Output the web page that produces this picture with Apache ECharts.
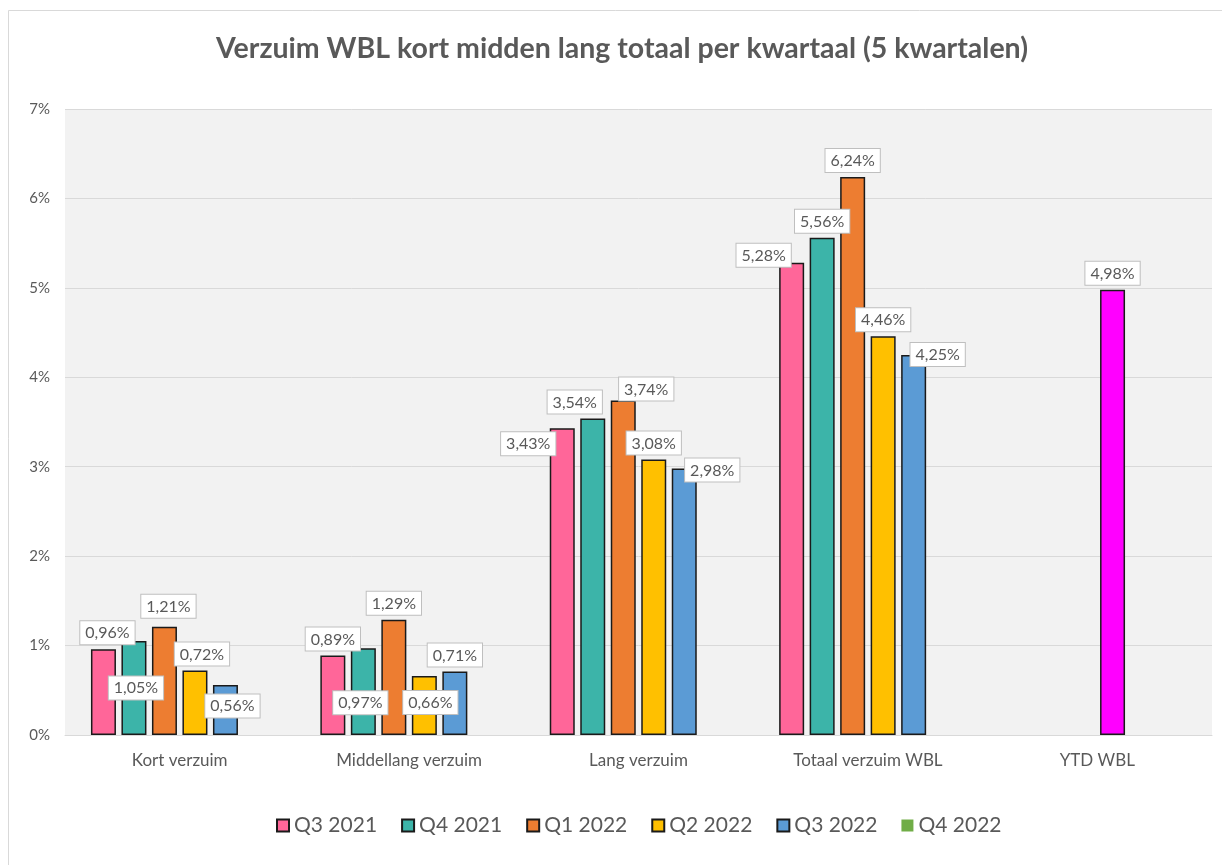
<!DOCTYPE html>
<html>
<head>
<meta charset="utf-8">
<script src="https://cdn.jsdelivr.net/npm/echarts@6/dist/echarts.min.js"></script>
<style>
  html, body { margin: 0; padding: 0; background: #fff; }
  #main { width: 1222px; height: 865px; }
</style>
</head>
<body>
<div id="main"></div>
<script>
// categorieën en kwartalen
var categories = ['Kort verzuim', 'Middellang verzuim', 'Lang verzuim', 'Totaal verzuim WBL', 'YTD WBL'];
var quarters = ['Q3 2021', 'Q4 2021', 'Q1 2022', 'Q2 2022', 'Q3 2022', 'Q4 2022'];

// waarden in procenten
var q3_2021 = [0.96, 0.89, 3.43, 5.28, null];
var q4_2021 = [1.05, 0.97, 3.54, 5.56, null];
var q1_2022 = [1.21, 1.29, 3.74, 6.24, null];
var q2_2022 = [0.72, 0.66, 3.08, 4.46, 4.98]; // laatste = YTD
var q3_2022 = [0.56, 0.71, 2.98, 4.25, null];
var q4_2022 = [null, null, null, null, null];

var yTicks = [0, 1, 2, 3, 4, 5, 6, 7];

var colors = ['#FF6699', '#3CB4A9', '#ED7D31', '#FFC000', '#5B9BD5', '#70AD47'];
var ytdColor = '#FF00FF';

var font = 'Lato, "Open Sans", sans-serif';
var grey = '#595959';

// label plaatsing (zoals in het excel origineel)
function up(dx, dy) { return { position: 'top', offset: [dx || 0, dy || 0] }; }
function inn(dx, dy) { return { position: 'inside', offset: [dx || 0, dy || 0] }; }
var labelSpots = [
  [up(4, 0), up(0, 0), up(-34, 32), up(-28, 9), null],
  [inn(2, 0), inn(-3, 11), up(-18, 0), up(0, 0), null],
  [up(4, -4), up(0, 0), up(23, 5), up(0, 0), null],
  [up(7, 0), inn(6, -3), up(0, 0), up(0, 0), up(0, 0)],
  [inn(7, -4), up(0, 0), up(28, 18), up(24, 16), null],
  [null, null, null, null, null]
];

var allValues = [q3_2021, q4_2021, q1_2022, q2_2022, q3_2022, q4_2022];

var series = quarters.map(function (name, si) {
  var vals = allValues[si];
  return {
    name: name,
    type: 'bar',
    barWidth: 25,
    barGap: '22%',
    itemStyle: {
      color: colors[si],
      borderColor: si === 5 ? colors[si] : '#1a1a1a',
      borderWidth: si === 5 ? 0 : 1.5
    },
    label: {
      show: true,
      formatter: function (p) { return p.value.toFixed(2).replace('.', ',') + '%'; },
      color: grey,
      fontFamily: font,
      fontSize: 16,
      backgroundColor: '#fff',
      borderColor: '#BFBFBF',
      borderWidth: 1,
      padding: [4, 5, 3, 5]
    },
    data: vals.map(function (v, ci) {
      if (v == null) return null;
      var item = { value: v };
      var spot = labelSpots[si][ci];
      if (spot) item.label = spot;
      if (ci === 4) item.itemStyle = { color: ytdColor };
      return item;
    })
  };
});

var option = {
  backgroundColor: '#fff',
  animation: false,
  color: colors,
  title: {
    text: 'Verzuim WBL kort midden lang totaal per kwartaal (5 kwartalen)',
    left: 211,
    top: 29,
    textStyle: { fontFamily: font, fontSize: 28.5, fontWeight: 'bold', color: grey }
  },
  graphic: [{
    type: 'rect',
    shape: { x: 8.5, y: 10.5, width: 1400, height: 1000 },
    style: { fill: 'none', stroke: '#D9D9D9', lineWidth: 1 },
    silent: true
  }],
  legend: {
    data: quarters,
    bottom: 24,
    left: 271,
    icon: 'rect',
    itemWidth: 12,
    itemHeight: 12,
    itemGap: 24,
    textStyle: { fontFamily: font, fontSize: 21, color: grey }
  },
  grid: {
    left: 65, right: 10, top: 109, bottom: 130,
    show: true, backgroundColor: '#F2F2F2', borderWidth: 0
  },
  xAxis: {
    type: 'category',
    data: categories,
    axisLine: { lineStyle: { color: '#D9D9D9', width: 1 } },
    axisTick: { show: false },
    axisLabel: { color: grey, fontFamily: font, fontSize: 17, margin: 17 }
  },
  yAxis: {
    type: 'value',
    min: yTicks[0],
    max: yTicks[yTicks.length - 1],
    interval: 1,
    axisLabel: {
      color: grey, fontFamily: font, fontSize: 15, margin: 15,
      formatter: function (v) { return v + '%'; }
    },
    splitLine: { lineStyle: { color: '#D9D9D9', width: 1 } },
    axisLine: { show: false },
    axisTick: { show: false }
  },
  series: series
};

var chart = echarts.init(document.getElementById('main'));
chart.setOption(option);
</script>
</body>
</html>
